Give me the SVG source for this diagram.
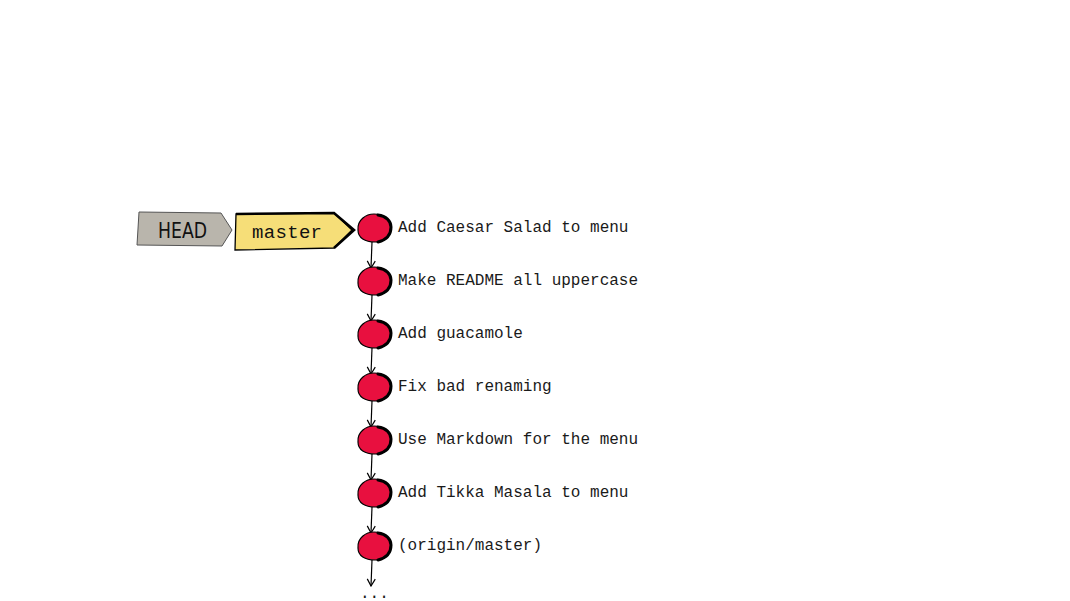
<svg xmlns="http://www.w3.org/2000/svg" width="1070" height="601" viewBox="0 0 1070 601">
<style>
.lbl{font-family:"Liberation Mono","DejaVu Sans Mono",monospace;font-size:16px;fill:#1a1a1a}
.blob{fill:#e8103f;stroke:#000;stroke-width:1.2}
.rim{fill:none;stroke:#000;stroke-width:3;stroke-linecap:round}
.conn{fill:none;stroke:#000;stroke-width:1.2}
</style>
<defs>
<marker id="ah" markerWidth="10" markerHeight="10" refX="9" refY="5" orient="auto" markerUnits="userSpaceOnUse" viewBox="0 0 10 10">
<path d="M2,1 L9,5 L2,9" fill="none" stroke="#000" stroke-width="1.2"/>
</marker>
<g id="b">
<path class="blob" d="M-16,2 C-17,-8 -8,-14 0,-14 C9,-14 17,-9 17,-1 C17,9 10,14 1,14 C-9,14 -16,10 -16,2 Z"/>
<path class="rim" d="M4,-13 C12,-12 17,-7 17,-1 C17,7 12,12 4,14"/>
</g>
</defs>
<rect width="1070" height="601" fill="#fff"/>
<g id="head">
<path d="M139,212 L221,213 L232,230 L222,246 L137,245 Z" fill="#b9b5ac" stroke="#555" stroke-width="1"/>
<text x="158" y="238" font-family="'DejaVu Sans Condensed','Liberation Sans',sans-serif" font-size="22" textLength="49" lengthAdjust="spacingAndGlyphs" fill="#111">HEAD</text>
</g>
<g id="master">
<path d="M236,214 L334,213 L352,230 L334,248 L235,250 Z" fill="#f6de78" stroke="#000" stroke-width="1.3"/>
<path d="M236,214 L334,213 L354,230 L334,248" fill="none" stroke="#000" stroke-width="2.6" stroke-linejoin="miter"/>
<text x="252" y="238" font-family="'Liberation Mono','DejaVu Sans Mono',monospace" font-size="19" textLength="70" fill="#111">master</text>
</g>
<g id="connectors">
<path class="conn" d="M372,242 L371,268" marker-end="url(#ah)"/>
<path class="conn" d="M372,295 L371,321" marker-end="url(#ah)"/>
<path class="conn" d="M372,348 L371,374" marker-end="url(#ah)"/>
<path class="conn" d="M372,401 L371,427" marker-end="url(#ah)"/>
<path class="conn" d="M372,454 L371,480" marker-end="url(#ah)"/>
<path class="conn" d="M372,507 L371,533" marker-end="url(#ah)"/>
<path class="conn" d="M372,560 L371,586" marker-end="url(#ah)"/>
</g>
<g id="c1"><use href="#b" x="374" y="228"/><text class="lbl" x="398" y="232">Add Caesar Salad to menu</text></g>
<g id="c2"><use href="#b" x="374" y="281"/><text class="lbl" x="398" y="285">Make README all uppercase</text></g>
<g id="c3"><use href="#b" x="374" y="334"/><text class="lbl" x="398" y="338">Add guacamole</text></g>
<g id="c4"><use href="#b" x="374" y="387"/><text class="lbl" x="398" y="391">Fix bad renaming</text></g>
<g id="c5"><use href="#b" x="374" y="440"/><text class="lbl" x="398" y="444">Use Markdown for the menu</text></g>
<g id="c6"><use href="#b" x="374" y="493"/><text class="lbl" x="398" y="497">Add Tikka Masala to menu</text></g>
<g id="c7"><use href="#b" x="374" y="546"/><text class="lbl" x="398" y="550">(origin/master)</text></g>
<text class="lbl" x="360" y="598">...</text>
</svg>
